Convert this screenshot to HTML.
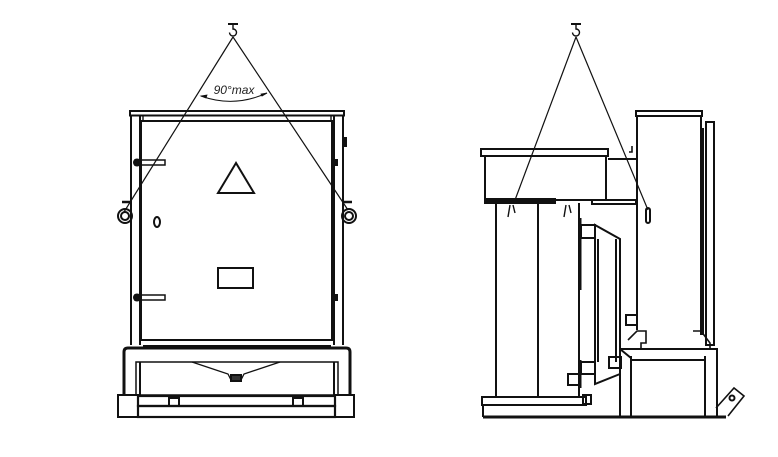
<!DOCTYPE html>
<html><head><meta charset="utf-8"><style>html,body{margin:0;padding:0;background:#fff}svg{display:block}</style></head><body>
<svg width="778" height="457" viewBox="0 0 778 457" xmlns="http://www.w3.org/2000/svg" fill="none" stroke="#111" stroke-width="2">
<!-- LEFT VIEW -->
<g>
<line x1="228" y1="24" x2="238" y2="24"/><path d="M233 24 v5 a3.5 3.5 0 1 1 -3.5 3.5" stroke-width="1.4"/>
<line x1="233" y1="37" x2="124" y2="212" stroke-width="1.2"/>
<line x1="233" y1="37" x2="348" y2="210" stroke-width="1.2"/>
<path d="M201 96 Q234 108 267 93" stroke-width="1"/>
<path d="M201 96 l6 -1 l-1 3z M267 93 l-6 1 l1 2z" fill="#111" stroke-width="0.8"/>
<text x="234" y="94" font-family="Liberation Sans, sans-serif" font-style="italic" font-size="12" fill="#222" stroke="none" text-anchor="middle">90°max</text>
<rect x="130" y="111" width="214" height="4.5"/>
<rect x="143" y="115.5" width="188" height="5.5" stroke-width="1.4"/>
<line x1="131" y1="115" x2="131" y2="345"/><line x1="140" y1="115" x2="140" y2="345"/>
<line x1="334" y1="115" x2="334" y2="345"/><line x1="343" y1="115" x2="343" y2="345"/>
<rect x="141" y="121" width="191" height="219"/>
<line x1="143" y1="340" x2="331" y2="340"/><line x1="143" y1="346" x2="331" y2="346"/>
<polygon points="236,163 218,193 254,193"/>
<rect x="218" y="268" width="35" height="20"/>
<ellipse cx="157" cy="222" rx="3" ry="5"/>
<rect x="135" y="160" width="30" height="5" stroke-width="1.5"/><circle cx="137" cy="162.5" r="3" fill="#111"/>
<rect x="135" y="295" width="30" height="5" stroke-width="1.5"/><circle cx="137" cy="297.5" r="3" fill="#111"/>
<rect x="333" y="160" width="4" height="5" fill="#111"/><rect x="333" y="295" width="4" height="5" fill="#111"/>
<rect x="343" y="138" width="3" height="8" fill="#111"/>
<circle cx="125" cy="216" r="7"/><circle cx="125" cy="216" r="4"/><line x1="122" y1="202" x2="130" y2="202" stroke-width="2.5"/>
<circle cx="349" cy="216" r="7"/><circle cx="349" cy="216" r="4"/><line x1="344" y1="202" x2="352" y2="202" stroke-width="2.5"/>
<path d="M124 395 V352 Q124 348 128 348 H346 Q350 348 350 352 V395" stroke-width="3"/>
<rect x="136" y="362" width="202" height="33" stroke-width="1.5"/>
<line x1="140" y1="362" x2="140" y2="395"/><line x1="334" y1="362" x2="334" y2="395"/>
<path d="M192 362 L228 374 L231 380 L241 380 L244 374 L280 362" stroke-width="1.3"/>
<rect x="231" y="375" width="10" height="6" fill="#333"/>
<rect x="118" y="395" width="20" height="22"/><rect x="335" y="395" width="19" height="22"/>
<rect x="138" y="396" width="197" height="10" stroke-width="2.2"/>
<rect x="138" y="406" width="197" height="11" stroke-width="2.2"/>
<rect x="169" y="398" width="10" height="8"/><rect x="293" y="398" width="10" height="8"/>
</g>
<!-- RIGHT VIEW -->
<g>
<line x1="571" y1="24" x2="581" y2="24"/><path d="M576 24 v5 a3.5 3.5 0 1 1 -3.5 3.5" stroke-width="1.4"/>
<line x1="576" y1="37" x2="515" y2="200" stroke-width="1.2"/>
<line x1="576" y1="37" x2="648" y2="210" stroke-width="1.2"/>
<rect x="646" y="208" width="4" height="15" rx="2"/>
<rect x="481" y="149" width="127" height="7"/>
<rect x="485" y="156" width="121" height="44"/>
<rect x="485" y="199" width="70" height="4" fill="#111"/>
<line x1="608" y1="159" x2="636" y2="159"/>
<rect x="592" y="200" width="44" height="4"/>
<path d="M632 146 v6 h-3" stroke-width="1.6"/>
<rect x="636" y="111" width="66" height="5"/>
<line x1="637" y1="116" x2="637" y2="330"/><line x1="701" y1="116" x2="701" y2="335"/>
<rect x="706" y="122" width="8" height="223"/><line x1="703" y1="128" x2="703" y2="335"/>
<line x1="496" y1="203" x2="496" y2="396"/><line x1="538" y1="203" x2="538" y2="396"/><line x1="579" y1="203" x2="579" y2="396"/>
<line x1="580" y1="218" x2="580" y2="290" stroke-width="3"/><line x1="580" y1="360" x2="580" y2="388" stroke-width="3"/>
<path d="M510 205 l-2 12 M513 205 l2 8" stroke-width="1.4"/>
<path d="M566 205 l-2 12 M569 205 l2 8" stroke-width="1.4"/>
<rect x="581" y="225" width="14" height="13"/>
<polygon points="595,225 620,239 620,374 595,384"/>
<line x1="598" y1="239" x2="598" y2="362"/><line x1="616" y1="239" x2="616" y2="362"/>
<rect x="581" y="362" width="14" height="12"/><rect x="609" y="357" width="12" height="11"/>
<rect x="568" y="374" width="12" height="11"/>
<rect x="626" y="315" width="11" height="10"/>
<path d="M628 340 l9 -9 h9 v12 h-5 v5" stroke-width="1.6"/>
<path d="M693 331 h8 l9 12 v5" stroke-width="1.6"/>
<rect x="620" y="349" width="97" height="68"/>
<line x1="631" y1="356" x2="631" y2="417"/><line x1="705" y1="356" x2="705" y2="417"/>
<line x1="631" y1="360" x2="705" y2="360"/>
<line x1="620" y1="349" x2="631" y2="358"/>
<rect x="482" y="397" width="104" height="8"/><rect x="583" y="395" width="8" height="9"/>
<line x1="483" y1="405" x2="483" y2="417"/>
<line x1="483" y1="417" x2="726" y2="417" stroke-width="3"/>
<path d="M716 408 L734 388 L744 396 L728 416" stroke-width="1.6"/>
<circle cx="732" cy="398" r="2.5"/>
</g>
</svg>
</body></html>
